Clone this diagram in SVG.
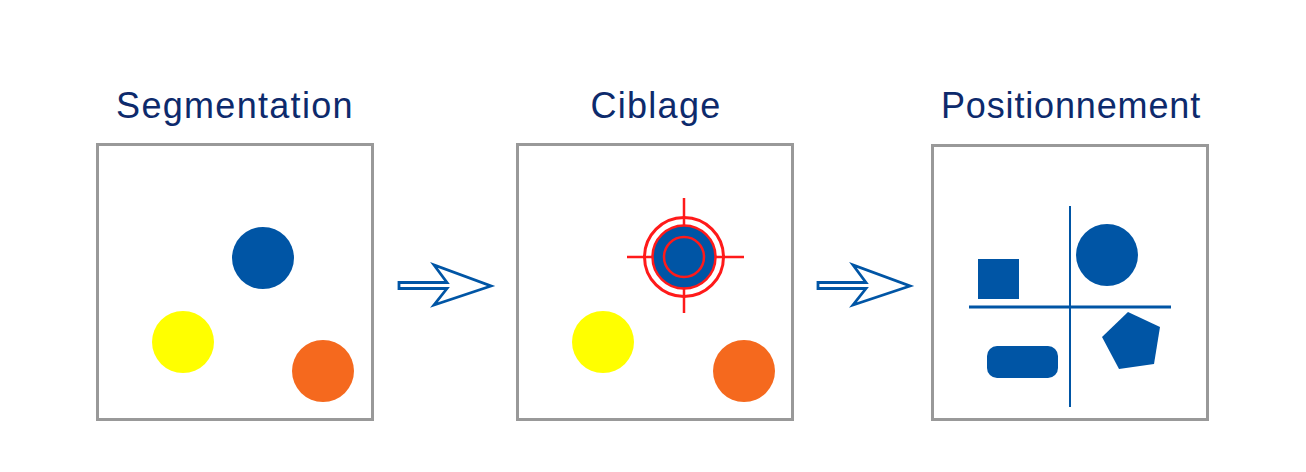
<svg xmlns="http://www.w3.org/2000/svg" width="1306" height="472" viewBox="0 0 1306 472">
<style>
.title{font-family:"Liberation Sans",Arial,sans-serif;font-size:36px;fill:#0d2a6c;text-anchor:middle;letter-spacing:1.3px}
.box{fill:#fff;stroke:#999;stroke-width:3}
.blue{fill:#0055a5}
.yellow{fill:#ffff00}
.orange{fill:#f5691e}
.red{fill:none;stroke:#ff1a1a;stroke-width:2.5}
.arrow{fill:#fff;stroke:#0055a5;stroke-width:2.8;stroke-linejoin:miter}
</style>
<rect width="1306" height="472" fill="#fff"/>
<g id="segmentation">
<text class="title" x="235" y="118">Segmentation</text>
<rect class="box" x="97.5" y="144.5" width="275" height="275"/>
<circle class="blue" cx="263" cy="258" r="31"/>
<circle class="yellow" cx="183" cy="342" r="31"/>
<circle class="orange" cx="323" cy="371" r="31"/>
</g>
<g id="ciblage">
<text class="title" x="656" y="118">Ciblage</text>
<rect class="box" x="517.5" y="144.5" width="275" height="275"/>
<line class="red" x1="684" y1="198" x2="684" y2="313"/>
<line class="red" x1="627" y1="257" x2="744" y2="257"/>
<circle cx="684" cy="257" r="39.5" fill="none" stroke="#ff1a1a" stroke-width="3"/>
<circle cx="684" cy="257" r="31.5" fill="#0055a5" stroke="#ff1a1a" stroke-width="2.5"/>
<circle class="red" cx="684" cy="257" r="20"/>
<circle class="yellow" cx="603" cy="342" r="31"/>
<circle class="orange" cx="744" cy="371" r="31"/>
</g>
<g id="positionnement">
<text class="title" x="1071" y="118" style="letter-spacing:0.85px">Positionnement</text>
<rect class="box" x="932.5" y="145.5" width="275" height="274"/>
<line x1="1070" y1="206" x2="1070" y2="407" stroke="#0055a5" stroke-width="2"/>
<line x1="969" y1="307" x2="1171" y2="307" stroke="#0055a5" stroke-width="3"/>
<rect class="blue" x="978" y="259" width="41" height="40"/>
<circle class="blue" cx="1107" cy="255" r="31"/>
<rect class="blue" x="987" y="346" width="71" height="32" rx="10"/>
<polygon class="blue" points="1128,312 1160,327 1154,364 1119,369 1102,337"/>
</g>
<g id="connectors">
<polygon class="arrow" points="399,282.5 447,282.5 434,265 491,286 434,305 447,288.5 399,288.5"/>
<polygon class="arrow" points="818,282.5 866,282.5 853,265 910,286 853,305 866,288.5 818,288.5"/>
</g>
</svg>
